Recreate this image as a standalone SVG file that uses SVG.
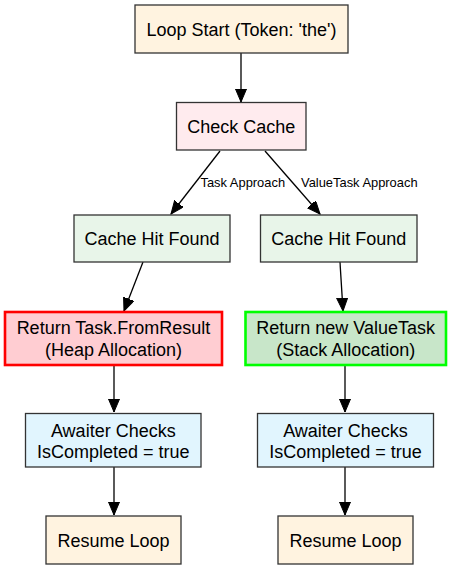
<svg xmlns="http://www.w3.org/2000/svg" width="451" height="569" viewBox="0 0 451 569">
<style>
.n{stroke:#333333;stroke-width:1.3}
.t{font-family:"Liberation Sans",Arial,sans-serif;font-size:18px;fill:#000;text-anchor:middle}
.l{font-family:"Liberation Sans",Arial,sans-serif;font-size:12.9px;fill:#000}
.e{stroke:#000;stroke-width:1.3;fill:none;marker-end:url(#ah)}
</style>
<defs>
<marker id="ah" markerUnits="userSpaceOnUse" markerWidth="14" markerHeight="12" refX="13" refY="5.5" orient="auto">
<path d="M0,0 L13,5.5 L0,11 z" fill="#000" stroke="#000" stroke-width="1"/>
</marker>
</defs>
<rect width="451" height="569" fill="#fff"/>
<g id="connectors">
<line class="e" x1="241" y1="53" x2="241" y2="102"/>
<line class="e" x1="220" y1="151" x2="171" y2="214"/>
<line class="e" x1="265" y1="151" x2="320" y2="214"/>
<line class="e" x1="143" y1="262" x2="124" y2="311"/>
<line class="e" x1="340" y1="262" x2="343" y2="311"/>
<line class="e" x1="114" y1="366" x2="114" y2="412"/>
<line class="e" x1="345" y1="366" x2="345" y2="412"/>
<line class="e" x1="114" y1="467" x2="114" y2="515"/>
<line class="e" x1="345" y1="467" x2="345" y2="515"/>
<text class="l" x="200.5" y="187.3">Task Approach</text>
<text class="l" x="301" y="187.3">ValueTask Approach</text>
</g>
<g id="loop_start">
<rect class="n" x="135" y="5" width="213" height="48" fill="#fff3e0"/>
<text class="t" x="241.5" y="36">Loop Start (Token: 'the')</text>
</g>
<g id="check_cache">
<rect class="n" x="176.5" y="102.5" width="129.5" height="47.5" fill="#ffebee"/>
<text class="t" x="241.3" y="133.3">Check Cache</text>
</g>
<g id="hit_task">
<rect class="n" x="74" y="215" width="156" height="47" fill="#e8f5e9"/>
<text class="t" x="152" y="245">Cache Hit Found</text>
</g>
<g id="hit_valuetask">
<rect class="n" x="260.5" y="215" width="156.5" height="47" fill="#e8f5e9"/>
<text class="t" x="338.7" y="245">Cache Hit Found</text>
</g>
<g id="return_task">
<rect x="5" y="312" width="217" height="53" fill="#ffcdd2" stroke="#ff0000" stroke-width="2.6"/>
<text class="t" x="113.5" y="334">Return Task.FromResult</text>
<text class="t" x="113.5" y="355.7">(Heap Allocation)</text>
</g>
<g id="return_valuetask">
<rect x="245.5" y="312" width="200.5" height="53" fill="#c8e6c9" stroke="#00ff00" stroke-width="2.6"/>
<text class="t" x="345.7" y="334">Return new ValueTask</text>
<text class="t" x="345.7" y="355.7">(Stack Allocation)</text>
</g>
<g id="awaiter_task">
<rect class="n" x="25.5" y="413.5" width="175.5" height="53.5" fill="#e1f5fe"/>
<text class="t" x="113.3" y="436.6">Awaiter Checks</text>
<text class="t" x="113.3" y="458.2">IsCompleted = true</text>
</g>
<g id="awaiter_valuetask">
<rect class="n" x="257.5" y="413.5" width="176" height="53.5" fill="#e1f5fe"/>
<text class="t" x="345.5" y="436.6">Awaiter Checks</text>
<text class="t" x="345.5" y="458.2">IsCompleted = true</text>
</g>
<g id="resume_task">
<rect class="n" x="46" y="516" width="135" height="48" fill="#fff3e0"/>
<text class="t" x="113.5" y="547">Resume Loop</text>
</g>
<g id="resume_valuetask">
<rect class="n" x="278" y="516" width="135" height="48" fill="#fff3e0"/>
<text class="t" x="345.5" y="547">Resume Loop</text>
</g>
</svg>
